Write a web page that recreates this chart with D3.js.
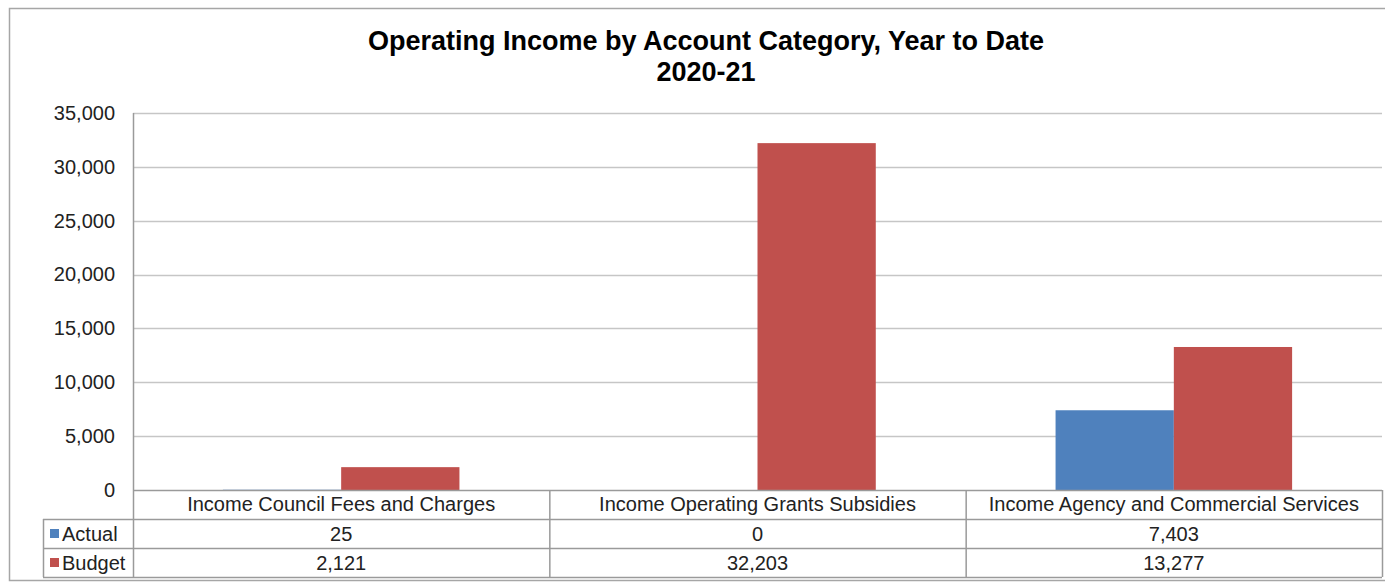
<!DOCTYPE html>
<html lang="en">
<head>
  <meta charset="UTF-8">
  <title>Operating Income by Account Category</title>
  <script src="https://cdn.jsdelivr.net/npm/d3@7"></script>
  <style>
    body { margin: 0; background: #fff; }
    svg { display: block; font-family: "Liberation Sans", Arial, sans-serif; }
  </style>
</head>
<body>
  <div id="chart"></div>
  <script>
    const categories = ['Income Council Fees and Charges', 'Income Operating Grants Subsidies', 'Income Agency and Commercial Services']
    const seriesNames = ['Actual', 'Budget']
    const actual = [25, 0, 7403]
    const budget = [2121, 32203, 13277]
    const yTicks = [0, 5000, 10000, 15000, 20000, 25000, 30000, 35000]
    const colors = ['#4F81BD', '#C0504D']

    const width = 1385
    const height = 582
    const plotLeft = 133, plotRight = 1382, plotTop = 113, plotBottom = 490
    const rowH = 29
    const fs = '20px'

    const svg = d3.select('#chart').append('svg')
      .attr('width', width)
      .attr('height', height)

    // outer frame
    svg.append('rect')
      .attr('x', 9.5).attr('y', 8.5)
      .attr('width', 1400).attr('height', 572)
      .attr('fill', 'none').attr('stroke', '#a6a6a6').attr('stroke-width', 1.5)

    svg.append('text')
      .attr('x', 706).attr('y', 50)
      .attr('text-anchor', 'middle')
      .style('font-size', '27px').style('font-weight', 'bold')
      .text('Operating Income by Account Category, Year to Date')
    svg.append('text')
      .attr('x', 706).attr('y', 81)
      .attr('text-anchor', 'middle')
      .style('font-size', '27px').style('font-weight', 'bold')
      .text('2020-21')

    const y = d3.scaleLinear().domain([0, 35000]).range([plotBottom, plotTop])
    const x0 = d3.scaleBand().domain(categories).range([plotLeft, plotRight]).padding(0)
    const x1 = d3.scaleBand().domain(seriesNames)
      .range([0, x0.bandwidth()]).paddingInner(0).paddingOuter(0.76)

    // gridlines
    svg.append('g')
      .selectAll('line')
      .data(yTicks.filter(d => d > 0))
      .join('line')
      .attr('x1', plotLeft).attr('x2', plotRight)
      .attr('y1', d => Math.round(y(d)) + 0.5).attr('y2', d => Math.round(y(d)) + 0.5)
      .attr('stroke', '#c6c6c6').attr('stroke-width', 1.3)

    const yAxis = d3.axisLeft(y)
      .tickValues(yTicks)
      .tickFormat(d3.format(','))
      .tickSize(0)
      .tickPadding(18)
    svg.append('g')
      .attr('transform', `translate(${plotLeft}, 0)`)
      .call(yAxis)
      .call(g => g.select('.domain').remove())
      .selectAll('text')
      .style('font-size', fs)
      .style('font-family', '"Liberation Sans", Arial, sans-serif')
      .attr('fill', '#222')

    // bars
    const rows = categories.map((c, i) => ({ cat: c, values: [actual[i], budget[i]] }))
    svg.append('g')
      .selectAll('g')
      .data(rows)
      .join('g')
      .attr('transform', d => `translate(${x0(d.cat)}, 0)`)
      .selectAll('rect')
      .data(d => d.values.map((v, i) => ({ key: seriesNames[i], v })))
      .join('rect')
      .attr('x', d => x1(d.key))
      .attr('width', x1.bandwidth())
      .attr('y', d => y(d.v))
      .attr('height', d => plotBottom - y(d.v))
      .attr('fill', (d, i) => colors[i])

    // data table
    const lineColor = '#9a9a9a'
    const table = svg.append('g')
    const tableLeft = 43
    const hLines = [plotBottom, plotBottom + rowH, plotBottom + 2 * rowH, plotBottom + 3 * rowH]
    table.selectAll('line.h')
      .data(hLines)
      .join('line')
      .attr('class', 'h')
      .attr('x1', (d, i) => i === 0 ? plotLeft : tableLeft)
      .attr('x2', plotRight)
      .attr('y1', d => d + 0.5).attr('y2', d => d + 0.5)
      .attr('stroke', lineColor).attr('stroke-width', 1.5)

    const vLines = [plotLeft].concat(categories.map(c => x0(c) + x0.bandwidth()))
    table.selectAll('line.v')
      .data(vLines)
      .join('line')
      .attr('class', 'v')
      .attr('x1', d => d + 0.5).attr('x2', d => d + 0.5)
      .attr('y1', (d, i) => i === 0 ? plotTop : plotBottom)
      .attr('y2', plotBottom + 3 * rowH)
      .attr('stroke', lineColor).attr('stroke-width', 1.5)

    table.append('line')
      .attr('x1', tableLeft + 0.5).attr('x2', tableLeft + 0.5)
      .attr('y1', plotBottom + rowH).attr('y2', plotBottom + 3 * rowH)
      .attr('stroke', lineColor).attr('stroke-width', 1.5)

    table.selectAll('text.cat')
      .data(categories)
      .join('text')
      .attr('class', 'cat')
      .attr('x', d => x0(d) + x0.bandwidth() / 2)
      .attr('y', plotBottom + 21)
      .attr('text-anchor', 'middle')
      .style('font-size', fs).attr('fill', '#222')
      .text(d => d)

    const series = [actual, budget]
    series.forEach((vals, r) => {
      const yy = plotBottom + (r + 1) * rowH
      table.append('rect')
        .attr('x', 50).attr('y', yy + 10)
        .attr('width', 9).attr('height', 9)
        .attr('fill', colors[r])
      table.append('text')
        .attr('x', 62).attr('y', yy + 22)
        .style('font-size', fs).attr('fill', '#222')
        .text(seriesNames[r])
      table.selectAll(`text.v${r}`)
        .data(vals)
        .join('text')
        .attr('class', `v${r}`)
        .attr('x', (d, i) => x0(categories[i]) + x0.bandwidth() / 2)
        .attr('y', yy + 22)
        .attr('text-anchor', 'middle')
        .style('font-size', fs).attr('fill', '#222')
        .text(d => d3.format(',')(d))
    })
  </script>
</body>
</html>
